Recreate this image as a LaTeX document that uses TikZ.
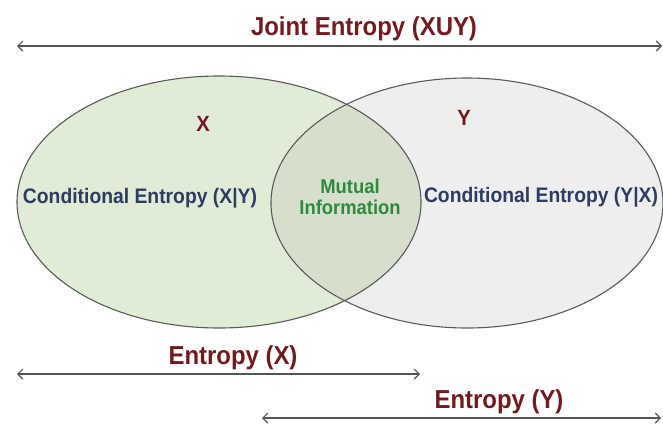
\documentclass[tikz,border=0pt]{standalone}
\usepackage{fontspec}
\setmainfont{Liberation Sans}
\newfontfamily\narrowfont[FakeStretch=0.92]{Liberation Sans}
\usetikzlibrary{arrows.meta}
\definecolor{darkred}{HTML}{731A1E}
\definecolor{navytext}{HTML}{2C3C62}
\definecolor{mutgreen}{HTML}{2E8A3E}
\definecolor{xfill}{HTML}{E1ECD7}
\definecolor{yfill}{HTML}{EEEEEE}
\definecolor{both}{HTML}{D6DFCC}
\definecolor{edge}{HTML}{5A5A5A}
\definecolor{arrowgray}{HTML}{555555}
\tikzset{
  setline/.style={draw=edge, line width=1.1pt},
  dimarrow/.style={draw=arrowgray, line width=1.2pt, {Straight Barb[length=5pt,width=10pt]}-{Straight Barb[length=5pt,width=10pt]}},
  redlabel/.style={text=darkred, font=\narrowfont\bfseries\fontsize{26}{28}\selectfont, inner sep=0pt},
  setname/.style={text=darkred, font=\narrowfont\bfseries\fontsize{22}{24}\selectfont, inner sep=0pt},
  condlabel/.style={text=navytext, font=\narrowfont\bfseries\fontsize{21}{22}\selectfont, inner sep=0pt},
  mutlabel/.style={text=mutgreen, font=\narrowfont\bfseries\fontsize{20}{21}\selectfont, inner sep=0pt, align=center}
}
\begin{document}
\begin{tikzpicture}[x=1pt,y=-1pt]
\useasboundingbox (0,0) rectangle (663,426);
% sets
\fill[xfill] (219,202) ellipse [x radius=202, y radius=126];
\fill[yfill] (467,203) ellipse [x radius=196, y radius=125];
\begin{scope}
  \clip (219,202) ellipse [x radius=202, y radius=126];
  \fill[both] (467,203) ellipse [x radius=196, y radius=125];
\end{scope}
\draw[setline] (219,202) ellipse [x radius=202, y radius=126];
\draw[setline] (467,203) ellipse [x radius=196, y radius=125];
% labels inside
\node[setname] (xname) at (203,124) {X};
\node[setname] (yname) at (464,118) {Y};
\node[condlabel] (cxy) at (140,198) {Conditional Entropy (X|Y)};
\node[condlabel] (cyx) at (541,197) {Conditional Entropy (Y|X)};
\node[mutlabel] (mi) at (350,197) {Mutual\\Information};
% arrows
\coordinate (jl) at (17,46);
\coordinate (jr) at (662,46);
\draw[dimarrow] (jl) -- (jr);
\node[redlabel] (joint) at (364,29) {Joint Entropy (XUY)};
\coordinate (xl) at (17,374);
\coordinate (xr) at (420,374);
\draw[dimarrow] (xl) -- (xr);
\node[redlabel] (hx) at (233,358) {Entropy (X)};
\coordinate (yl) at (262,418);
\coordinate (yr) at (661,418);
\draw[dimarrow] (yl) -- (yr);
\node[redlabel] (hy) at (499,402) {Entropy (Y)};
\end{tikzpicture}
\end{document}
